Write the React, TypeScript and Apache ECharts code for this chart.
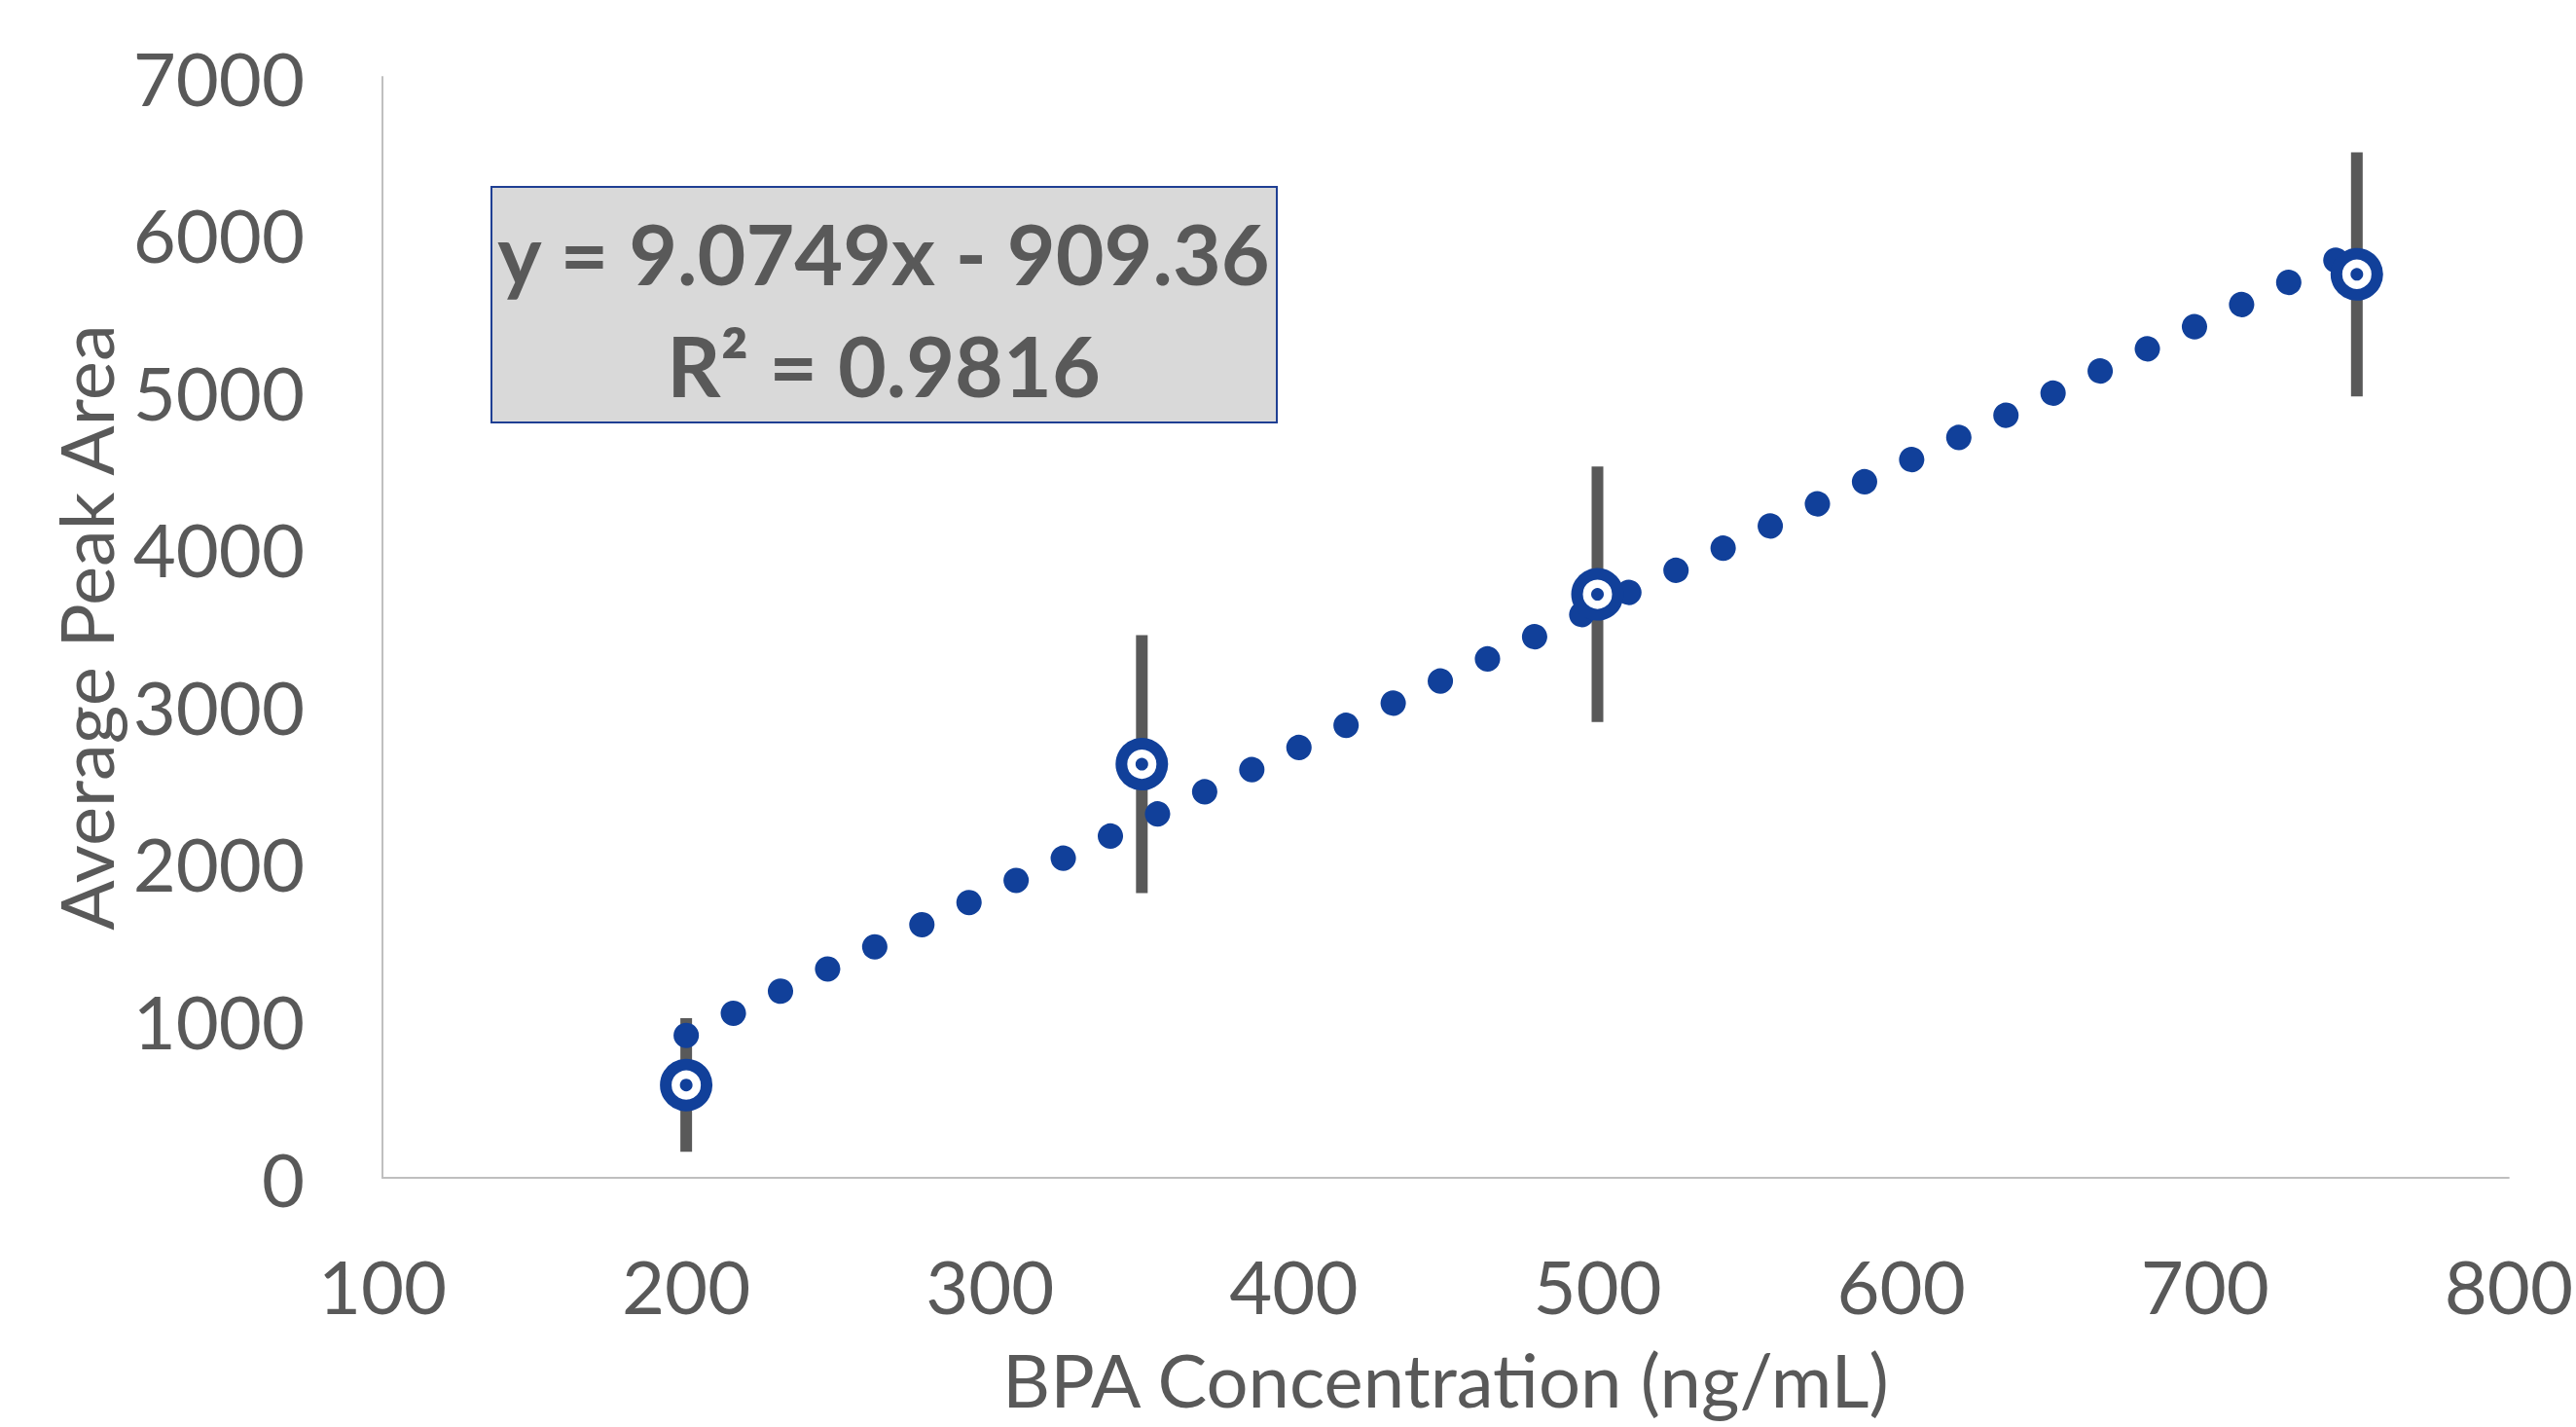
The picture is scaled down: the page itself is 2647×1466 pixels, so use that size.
import React, { useEffect, useRef } from "react";
import * as echarts from "echarts";

// ---- data ----
const concentrations = [200, 350, 500, 750];
const peakAreas = [590, 2630, 3710, 5745];
const errorAmounts = [425, 820, 812, 776];
const trendStart = [200, 905.6];
const trendEnd = [750, 5896.8];
const xRange = { min: 100, max: 800, interval: 100 };
const yRange = { min: 0, max: 7000, interval: 1000 };
const xTitle = "BPA Concentration (ng/mL)";
const yTitle = "Average Peak Area";
const equationText = "y = 9.0749x - 909.36";
const r2Text = "R² = 0.9816";

const BLUE = "#11409A";
const GREY = "#595959";
const FONT = "Lato, 'Open Sans', sans-serif";

export default function App() {
  const ref = useRef<HTMLDivElement>(null);

  useEffect(() => {
    document.body.style.margin = "0";
    if (!ref.current) return;
    const chart = echarts.init(ref.current, null, { renderer: "svg" });

    const points = concentrations.map((x, i) => [x, peakAreas[i]]);
    const errorData = concentrations.map((x, i) => [
      x,
      peakAreas[i] - errorAmounts[i],
      peakAreas[i] + errorAmounts[i],
    ]);

    chart.setOption({
      animation: false,
      backgroundColor: "#ffffff",
      grid: { left: 393, right: 64, top: 79, bottom: 256, containLabel: false },
      xAxis: {
        type: "value",
        min: xRange.min,
        max: xRange.max,
        interval: xRange.interval,
        name: xTitle,
        nameLocation: "middle",
        nameGap: 168,
        nameTextStyle: { color: GREY, fontSize: 76, fontFamily: FONT },
        axisLine: { show: true, lineStyle: { color: "#BFBFBF", width: 2 } },
        axisTick: { show: false },
        splitLine: { show: false },
        axisLabel: {
          color: GREY,
          fontSize: 76,
          fontFamily: FONT,
          margin: 72,
          formatter: (v: number) => String(v),
        },
      },
      yAxis: {
        type: "value",
        min: yRange.min,
        max: yRange.max,
        interval: yRange.interval,
        name: yTitle,
        nameLocation: "middle",
        nameGap: 252,
        nameTextStyle: { color: GREY, fontSize: 76, fontFamily: FONT },
        axisLine: { show: true, lineStyle: { color: "#BFBFBF", width: 2 } },
        axisTick: { show: false },
        splitLine: { show: false },
        axisLabel: {
          color: GREY,
          fontSize: 76,
          fontFamily: FONT,
          margin: 80,
          formatter: (v: number) => String(v),
        },
      },
      series: [
        {
          type: "custom",
          name: "Error",
          z: 1,
          silent: true,
          encode: { x: 0, y: [1, 2] },
          data: errorData,
          renderItem: (params: any, api: any) => {
            const x = api.value(0);
            const p1 = api.coord([x, api.value(1)]);
            const p2 = api.coord([x, api.value(2)]);
            return {
              type: "line",
              shape: { x1: p1[0], y1: p1[1], x2: p2[0], y2: p2[1] },
              style: { stroke: GREY, lineWidth: 12 },
            };
          },
        },
        {
          type: "line",
          name: "Linear trend",
          z: 2,
          silent: true,
          symbol: "none",
          data: [trendStart, trendEnd],
          lineStyle: { color: BLUE, width: 26, type: [0.01, 53.5], cap: "round" },
        },
        {
          type: "scatter",
          name: "Average Peak Area",
          z: 3,
          symbol: "circle",
          symbolSize: 42,
          data: points,
          itemStyle: { color: "#ffffff", borderColor: BLUE, borderWidth: 12, opacity: 1 },
        },
        {
          type: "scatter",
          name: "centre",
          z: 4,
          symbol: "circle",
          symbolSize: 13,
          data: points,
          itemStyle: { color: BLUE, opacity: 1 },
        },
      ],
      graphic: [
        {
          type: "rect",
          z: 10,
          shape: { x: 505, y: 192, width: 807, height: 242 },
          style: { fill: "#D9D9D9", stroke: "#1F3F93", lineWidth: 2 },
        },
        {
          type: "text",
          z: 11,
          x: 908,
          y: 259,
          style: {
            text: equationText,
            fill: GREY,
            fontSize: 86,
            fontWeight: "bold",
            fontFamily: FONT,
            align: "center",
            verticalAlign: "middle",
          },
        },
        {
          type: "text",
          z: 11,
          x: 908,
          y: 374,
          style: {
            text: r2Text,
            fill: GREY,
            fontSize: 86,
            fontWeight: "bold",
            fontFamily: FONT,
            align: "center",
            verticalAlign: "middle",
          },
        },
      ],
    });

    return () => chart.dispose();
  }, []);

  return (
    <div
      ref={ref}
      style={{ position: "fixed", left: 0, top: 0, width: 2647, height: 1466 }}
    />
  );
}
